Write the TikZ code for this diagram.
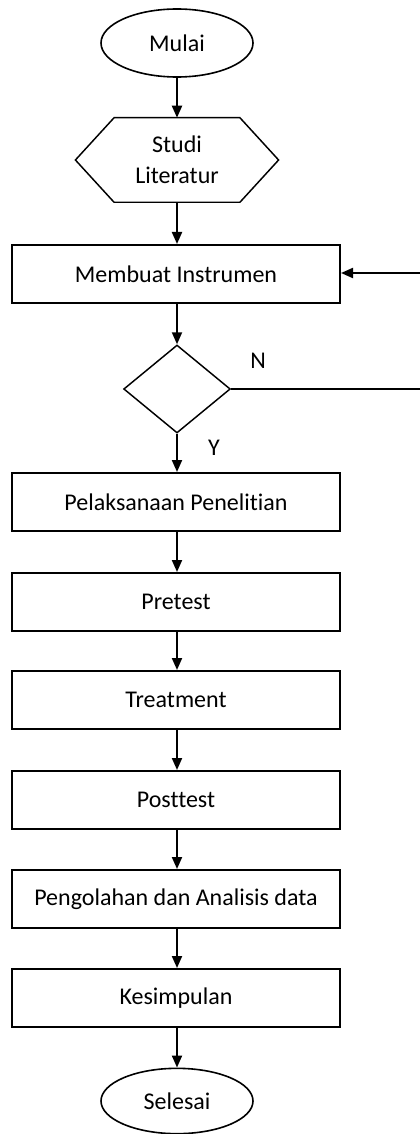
\documentclass[tikz,border=0pt]{standalone}
\usepackage{fontspec}
\setmainfont{Carlito}[Ligatures={NoCommon}]
\usetikzlibrary{shapes.geometric,arrows.meta}

\begin{document}
\begin{tikzpicture}[x=0.75pt,y=-0.75pt,
    font=\fontsize{18}{23.5}\selectfont,
    proses/.style={draw, line width=1.5pt, rectangle, minimum width=246pt, minimum height=43.5pt, inner sep=0pt},
    terminal/.style={draw, line width=1.2pt, ellipse, minimum width=114pt, minimum height=51pt, inner sep=0pt},
    keputusan/.style={draw, line width=1.1pt, diamond, minimum width=80pt, minimum height=66pt, inner sep=0pt},
    panah/.style={-{Triangle[length=9pt,width=7.5pt]}, line width=1.5pt}]
    \useasboundingbox (0,0) rectangle (420,1134);
    \node[terminal] (mulai) at (177,43) {Mulai};
    \node[minimum width=94pt, minimum height=63pt, inner sep=0pt, align=center] (studi) at (177,160) {Studi\\Literatur};
    \draw[line width=1.1pt] (studi.north west) -- (studi.north east) -- ([xshift=29pt]studi.east) -- (studi.south east)
        -- (studi.south west) -- ([xshift=-29pt]studi.west) -- cycle;
    \node[proses] (instrumen) at (176,274) {Membuat Instrumen};
    \node[keputusan] (valid) at (177,389) {};
    \node[proses] (pelaksanaan) at (176,502) {Pelaksanaan Penelitian};
    \node[proses] (pretest) at (176,602) {Pretest};
    \node[proses] (treatment) at (176,700) {Treatment};
    \node[proses] (posttest) at (176,800) {Posttest};
    \node[proses] (analisis) at (176,899) {Pengolahan dan Analisis data};
    \node[proses] (kesimpulan) at (176,998) {Kesimpulan};
    \node[terminal, minimum height=49pt] (selesai) at (177,1101) {Selesai};
    \coordinate (tidak) at (420,389);
    \coordinate (ulang) at (420,273);
    \draw[panah] (mulai) -- (studi.north -| mulai);
    \draw[panah] (studi) -- (instrumen.north -| studi);
    \draw[panah] (instrumen.south -| valid) -- (valid);
    \draw[panah] (valid) -- (pelaksanaan.north -| valid);
    \draw[panah] (pelaksanaan.south -| valid) -- (pretest.north -| valid);
    \draw[panah] (pretest.south -| valid) -- (treatment.north -| valid);
    \draw[panah] (treatment.south -| valid) -- (posttest.north -| valid);
    \draw[panah] (posttest.south -| valid) -- (analisis.north -| valid);
    \draw[panah] (analisis.south -| valid) -- (kesimpulan.north -| valid);
    \draw[panah] (kesimpulan.south -| valid) -- (selesai);
    \draw[line width=0.8pt] (valid.east) -- (valid.east -| tidak);
    \draw[panah] (ulang) -- (instrumen.east |- ulang);
    \node (n) at (258,361) {N};
    \node (y) at (214,448) {Y};
\end{tikzpicture}
\end{document}
